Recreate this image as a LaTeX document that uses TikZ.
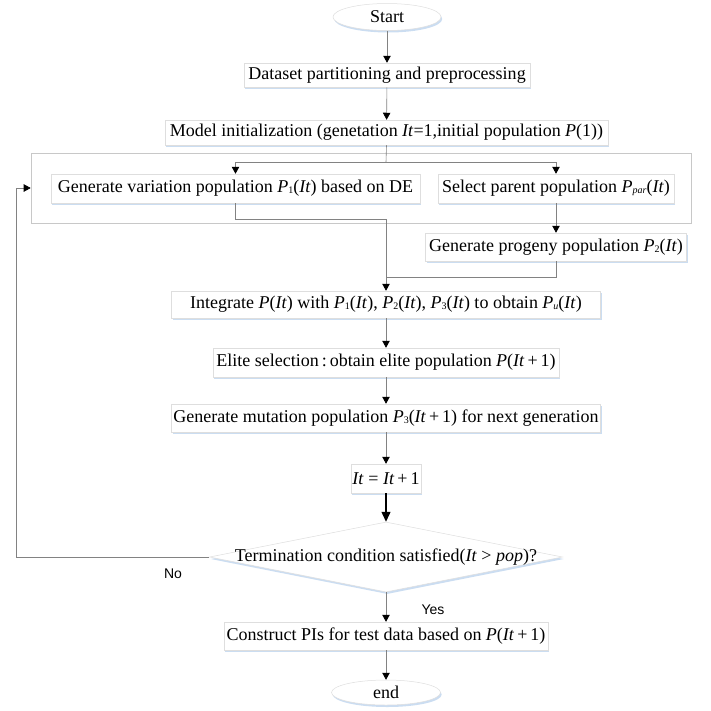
\documentclass[tikz,border=0pt]{standalone}
\usepackage{fontspec}
\setmainfont{Liberation Serif}
\setsansfont{Liberation Sans}
\usetikzlibrary{arrows.meta,shapes.geometric,shadows}
\definecolor{boxline}{RGB}{222,222,222}
\definecolor{contline}{RGB}{200,200,200}
\definecolor{linegray}{RGB}{130,130,130}
\definecolor{shadowblue}{RGB}{190,212,238}
\newcommand{\iv}[1]{\textit{#1}}
\newcommand{\sbs}[1]{\raisebox{-1pt}{\fontsize{10}{11}\selectfont #1}}
\begin{document}
\begin{tikzpicture}[x=1pt,y=-1pt,
  font=\fontsize{18}{21}\selectfont,
  shd/.style={drop shadow={shadow xshift=1.2pt,shadow yshift=-2pt,fill=shadowblue,opacity=0.8}},
  pbox/.style={draw=boxline,fill=white,shd,inner sep=0pt,line width=0.5pt},
  term/.style={ellipse,draw=boxline,fill=white,shd,inner sep=0pt,line width=0.5pt},
  ln/.style={draw=linegray,line width=0.6pt},
  arr/.style={draw=linegray,line width=0.6pt,-{Triangle[length=7pt,width=7.5pt,color=black]}},
  tarr/.style={draw=black,line width=1.4pt,-{Triangle[length=10pt,width=9pt]}},
  lab/.style={font=\sffamily\fontsize{14}{16}\selectfont,inner sep=0pt}]
\useasboundingbox (0,0) rectangle (711,710);
% container
\node[draw=contline,line width=0.6pt,minimum width=660pt,minimum height=70pt,inner sep=0pt] (cont) at (361,188) {};
% nodes
\node[term,minimum width=108pt,minimum height=27pt] (start) at (387,17) {Start};
\node[pbox,minimum width=286pt,minimum height=24pt] (data) at (387,75) {Dataset partitioning and preprocessing};
\node[pbox,minimum width=443pt,minimum height=25pt] (model) at (386.5,132.5) {Model initialization (genetation \iv{It}=1,initial population \iv{P}(1))};
\node[pbox,minimum width=369pt,minimum height=29pt] (var) at (235.5,188.5) {Generate variation population \iv{P}\sbs{1}(\iv{It}) based on DE};
\node[pbox,minimum width=236pt,minimum height=29pt] (sel) at (556,188.5) {Select parent population \iv{P}\sbs{\iv{par}}(\iv{It})};
\node[pbox,minimum width=261pt,minimum height=28pt] (prog) at (556,247) {Generate progeny population \iv{P}\sbs{2}(\iv{It})};
\node[pbox,minimum width=429pt,minimum height=27pt] (integ) at (386,304.5) {Integrate \iv{P}(\iv{It}) with \iv{P}\sbs{1}(\iv{It}), \iv{P}\sbs{2}(\iv{It}), \iv{P}\sbs{3}(\iv{It}) to obtain \iv{P}\sbs{\iv{u}}(\iv{It})};
\node[pbox,minimum width=346pt,minimum height=29pt] (elite) at (386,362.5) {Elite selection\,:\,obtain elite population \iv{P}(\iv{It}\,+\,1)};
\node[pbox,minimum width=429pt,minimum height=28pt] (mut) at (386,418) {Generate mutation population \iv{P}\sbs{3}(\iv{It}\,+\,1) for next generation};
\node[pbox,minimum width=70pt,minimum height=29pt] (inc) at (386,478.5) {\iv{It} = \iv{It}\,+\,1};
\node[diamond,draw=boxline,fill=white,shd,inner sep=0pt,minimum width=353pt,minimum height=70pt,line width=0.5pt] (dia) at (386,557) {};
\node[inner sep=0pt] (diatext) at (dia.center) {Termination condition satisfied(\iv{It} > \iv{pop})?};
\node[pbox,minimum width=324pt,minimum height=28pt] (cons) at (386,636) {Construct PIs for test data based on \iv{P}(\iv{It}\,+\,1)};
\node[term,minimum width=109pt,minimum height=25pt] (end) at (386,692.5) {end};
\node[lab] (no) at (173,574) {No};
\node[lab] (yes) at (433,610) {Yes};
% coordinates
\coordinate (br) at (386,162);
\coordinate (j1) at (386,219);
\coordinate (j2) at (386,277);
\coordinate (lp) at (16,557);
% connectors
\draw[arr] (start) -- (data);
\draw[arr] (data) -- (model);
\draw[ln] (model.south) -- (br);
\draw[arr] (br) -| (var.north);
\draw[arr] (br) -| (sel.north);
\draw[arr] (sel) -- (prog);
\draw[ln] (var.south) |- (j1);
\draw[ln] (prog.south) |- (j2);
\draw[arr] (j1) -- (integ.north);
\draw[arr] (integ) -- (elite);
\draw[arr] (elite) -- (mut);
\draw[arr] (mut) -- (inc);
\draw[tarr] (inc.south) -- (dia.north);
\draw[arr] (dia.south) -- (cons.north);
\draw[arr] (cons) -- (end);
\draw[arr] (dia.west) -- (lp) |- (cont.west);
\end{tikzpicture}
\end{document}
